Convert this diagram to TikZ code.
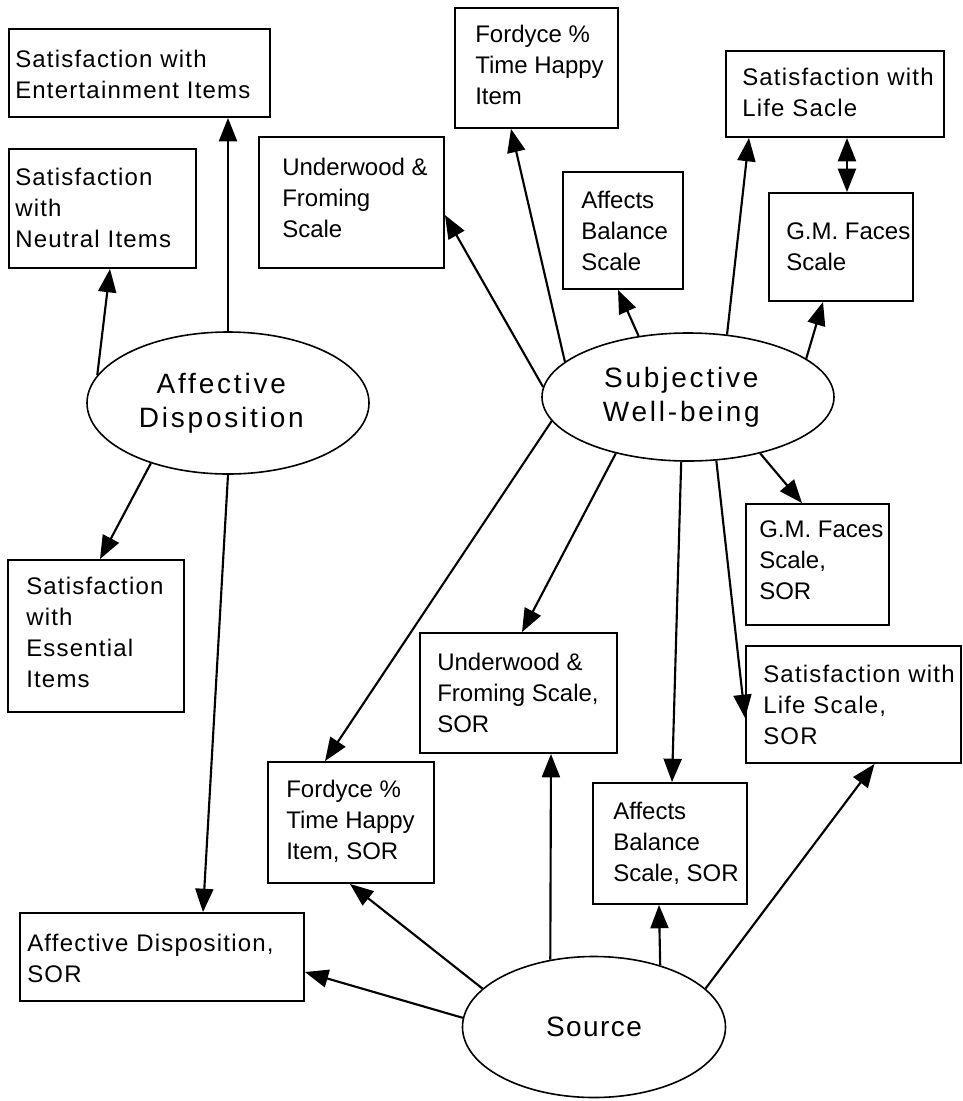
\documentclass[tikz,border=0pt]{standalone}
\usepackage{fontspec}
\setmainfont{Liberation Sans}
\newfontfamily\spfont[LetterSpace=5]{Liberation Sans}
\newfontfamily\elfont[LetterSpace=10]{Liberation Sans}
\newfontfamily\srcfont[LetterSpace=5]{Liberation Sans}
\usetikzlibrary{arrows.meta,shapes.geometric,calc}
\tikzset{
  box/.style 2 args={draw, line width=1.4pt, inner sep=0pt, minimum width=#1*0.75pt, minimum height=#2*0.75pt},
  lbl/.style={anchor=base west, align=left, inner sep=0pt, font=\fontsize{18}{23.25}\selectfont},
  slbl/.style={anchor=base west, align=left, inner sep=0pt, font=\spfont\fontsize{18}{23.25}\selectfont},
  oval/.style 2 args={draw, ellipse, line width=1.2pt, inner sep=0pt, align=center,
     minimum width=#1*0.75pt, minimum height=#2*0.75pt, font=\elfont\fontsize{21}{25.5}\selectfont},
  arr/.style={line width=1.6pt, -{Triangle[length=17.5pt,width=13.5pt]}},
  darr/.style={line width=1.6pt, {Triangle[length=17.5pt,width=13.5pt]}-{Triangle[length=17.5pt,width=13.5pt]}},
}
\begin{document}
\begin{tikzpicture}[x=0.75pt,y=-0.75pt]
\useasboundingbox (0,0) rectangle (963,1101);

% ellipses
\node[oval={282}{142}] (ad) at (228,403) {Affective\hspace*{10pt}\\Disposition\hspace*{10pt}};
\node[oval={292}{128}] (swb) at (688,397) {Subjective\hspace*{10pt}\\Well-being\hspace*{10pt}};
\node[oval={263}{141}, font=\srcfont\fontsize{21}{25.5}\selectfont] (src) at (594,1027) {Source};

% boxes
\node[box={261}{88}]  (eb)  at (139.5,73)   {};
\node[box={187}{119}] (nb)  at (102.5,208.5) {};
\node[box={185}{131}] (uf)  at (351.5,202.5) {};
\node[box={163}{120}] (fh)  at (536.5,68)   {};
\node[box={120}{117}] (ab)  at (623,230.5)  {};
\node[box={218}{86}]  (sl)  at (835,94)     {};
\node[box={144}{108}] (gm)  at (841,247)    {};
\node[box={143}{121}] (gms) at (817.5,564.5) {};
\node[box={215}{117}] (sls) at (853.5,704.5) {};
\node[box={197}{120}] (ufs) at (518.5,693)  {};
\node[box={176}{152}] (es)  at (96,636)     {};
\node[box={166}{121}] (fhs) at (351,822.5)  {};
\node[box={154}{121}] (abs) at (670,843.5)  {};
\node[box={284}{88}]  (ads) at (162,957)    {};

% box texts (anchored at the baseline of the last line)
\node[slbl] (teb)  at (15,98)  {Satisfaction with\\Entertainment Items};
\node[slbl] (tnb)  at (15,247) {Satisfaction\\with\\Neutral Items};
\node[lbl]  (tuf)  at (282,237) {Underwood \&\\Froming\\Scale};
\node[lbl]  (tfh)  at (475,104) {Fordyce \%\\Time Happy\\Item};
\node[lbl]  (tab)  at (581,270) {Affects\\Balance\\Scale};
\node[slbl] (tsl)  at (742,116) {Satisfaction with\\Life Sacle};
\node[lbl]  (tgm)  at (786,270) {G.M. Faces\\Scale};
\node[lbl]  (tgms) at (759,599) {G.M. Faces\\Scale,\\SOR};
\node[slbl] (tsls) at (763,744) {Satisfaction with\\Life Scale,\\SOR};
\node[lbl]  (tufs) at (437,732) {Underwood \&\\Froming Scale,\\SOR};
\node[slbl] (tes)  at (26,687) {Satisfaction\\with\\Essential\\Items};
\node[lbl]  (tfhs) at (286,859) {Fordyce \%\\Time Happy\\Item, SOR};
\node[lbl]  (tabs) at (613,881) {Affects\\Balance\\Scale, SOR};
\node[slbl] (tads) at (27,982) {Affective Disposition,\\SOR};

% Affective Disposition connectors
\draw[arr] (ad.north) -- ($(eb.south)+(88.5,0)$);
\draw[arr] (ad.168.8) -- ($(nb.south)+(7.5,0)$);
\draw[arr] (ad.218.5) -- ($(es.north)+(4,0)$);
\draw[arr] (ad.south) -- ($(ads.north)+(41,0)$);

% Subjective Well-being connectors
\draw[arr] (swb.176) -- ($(uf.east)+(0,12.5)$);
\draw[arr] (swb.164.8) -- ($(fh.south)+(-25.5,0)$);
\draw[arr] (swb.129) -- ($(ab.south)+(-5,0)$);
\draw[arr] (swb.58.4) -- ($(sl.south)+(-86,0)$);
\draw[arr] (swb.18.9) -- ($(gm.south)+(-18,0)$);
\draw[darr] ($(sl.south)+(12,0)$) -- ($(gm.north)+(6,0)$);
\draw[arr] (swb.190.3) -- ($(fhs.north)+(-26,0)$);
\draw[arr] (swb.218.4) -- ($(ufs.north)+(3.5,0)$);
\draw[arr] (swb.264.6) -- ($(abs.north)+(2,0)$);
\draw[arr] (swb.294.8) -- ($(sls.west)+(0,13.5)$);
\draw[arr] (swb.322.6) -- ($(gms.north)+(-15.5,0)$);

% Source connectors
\draw[arr] (src.176.9) -- ($(ads.east)+(0,15)$);
\draw[arr] (src.161.6) -- ($(fhs.south)+(-1,0)$);
\draw[arr] (src.123.5) -- ($(ufs.south)+(32.5,0)$);
\draw[arr] (src.43.9) -- ($(abs.south)+(-11,0)$);
\draw[arr] (src.19.9) -- ($(sls.south)+(21,0)$);
\end{tikzpicture}
\end{document}
